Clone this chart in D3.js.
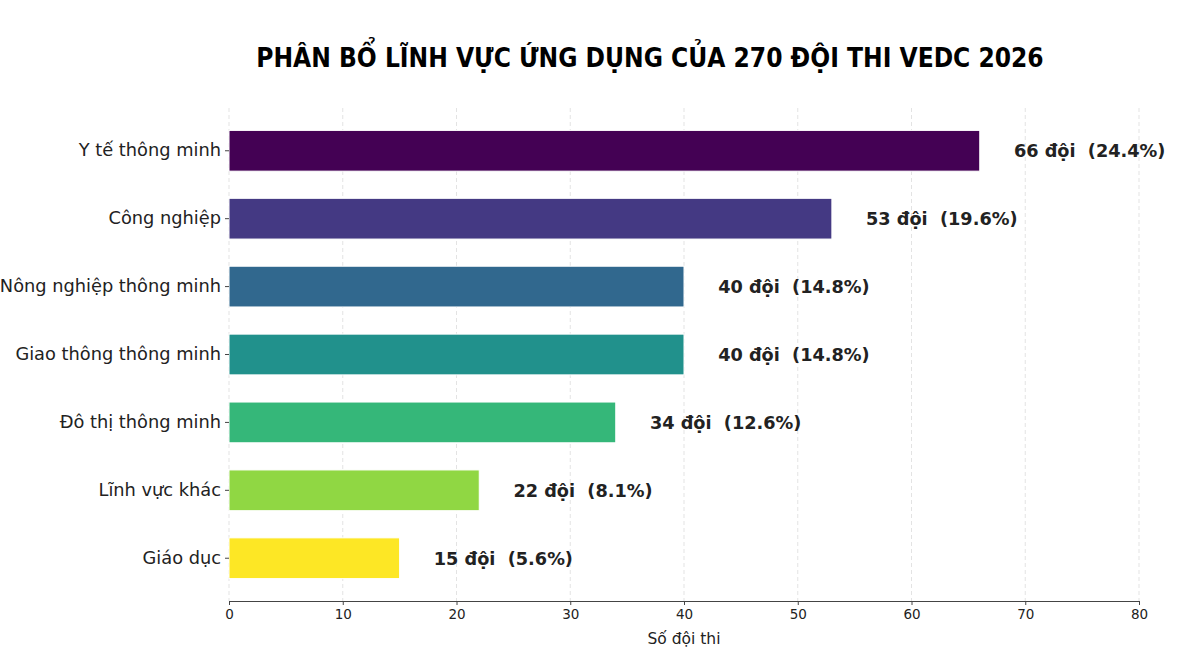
<!DOCTYPE html>
<html>
<head>
<meta charset="utf-8">
<script src="https://cdn.jsdelivr.net/npm/d3@7"></script>
<style>
  body { margin: 0; background: #fff; }
  svg { display: block; font-family: "DejaVu Sans", sans-serif; }
</style>
</head>
<body>
<svg width="1200" height="654"></svg>
<script>
// data
const categories = ["Y tế thông minh", "Công nghiệp", "Nông nghiệp thông minh",
  "Giao thông thông minh", "Đô thị thông minh", "Lĩnh vực khác", "Giáo dục"];
const teams = [66, 53, 40, 40, 34, 22, 15];
const percents = ["24.4", "19.6", "14.8", "14.8", "12.6", "8.1", "5.6"];
const xTicks = [0, 10, 20, 30, 40, 50, 60, 70, 80];

const svg = d3.select("svg");

const x = d3.scaleLinear().domain([0, 80]).range([229, 1139]);
const y = d3.scaleBand().domain(categories).range([108, 601])
  .paddingInner(0.4).paddingOuter(0.33);
const color = i => d3.interpolateViridis(i / (categories.length - 1));

// title: condensed face, font size fitted so it spans the reference width
const title = svg.append("text")
  .attr("x", 650).attr("y", 67)
  .attr("text-anchor", "middle")
  .style("font-family", "'Liberation Sans Narrow', 'DejaVu Sans Condensed', sans-serif")
  .style("font-weight", "bold")
  .style("font-size", "36px")
  .style("fill", "#000")
  .text("PHÂN BỔ LĨNH VỰC ỨNG DỤNG CỦA 270 ĐỘI THI VEDC 2026");
const w = title.node().getComputedTextLength();
if (w > 0) title.style("font-size", Math.min(40, 36 * 788 / w) + "px");

// grid
svg.append("g").selectAll("line")
  .data(xTicks)
  .join("line")
  .attr("x1", d => x(d)).attr("x2", d => x(d))
  .attr("y1", 108).attr("y2", 601)
  .attr("stroke", "#e3e3e3")
  .attr("stroke-width", 1)
  .attr("stroke-dasharray", "4,3");

// bars
svg.append("g").selectAll("rect")
  .data(teams)
  .join("rect")
  .attr("x", x(0))
  .attr("y", (d, i) => y(categories[i]))
  .attr("width", d => x(d) - x(0))
  .attr("height", y.bandwidth())
  .attr("fill", (d, i) => color(i))
  .attr("stroke", "#fff")
  .attr("stroke-width", 1);

// value labels
svg.append("g").selectAll("text")
  .data(teams)
  .join("text")
  .attr("x", d => x(d + 3))
  .attr("y", (d, i) => y(categories[i]) + y.bandwidth() / 2)
  .attr("dy", "0.36em")
  .attr("xml:space", "preserve")
  .style("white-space", "pre")
  .style("font-size", "17.7px")
  .style("font-weight", "bold")
  .style("fill", "#222")
  .text((d, i) => `${d} đội  (${percents[i]}%)`);

// x axis
const xAxis = svg.append("g")
  .attr("transform", "translate(0,601)")
  .call(d3.axisBottom(x).tickValues(xTicks).tickSize(4).tickPadding(4));
xAxis.select(".domain").attr("stroke", "#444");
xAxis.selectAll(".tick line").attr("stroke", "#444");
xAxis.selectAll(".tick text")
  .style("font-family", "'DejaVu Sans', sans-serif")
  .style("font-size", "13.5px")
  .style("fill", "#222");

svg.append("text")
  .attr("x", (x(0) + x(80)) / 2).attr("y", 644)
  .attr("text-anchor", "middle")
  .style("font-size", "15.5px")
  .style("fill", "#222")
  .text("Số đội thi");

// y axis
const yAxis = svg.append("g")
  .attr("transform", `translate(${x(0)},0)`)
  .call(d3.axisLeft(y).tickSize(4).tickPadding(4));
yAxis.select(".domain").remove();
yAxis.selectAll(".tick line").attr("stroke", "#444");
yAxis.selectAll(".tick text")
  .style("font-family", "'DejaVu Sans', sans-serif")
  .style("font-size", "17.8px")
  .style("fill", "#222");
</script>
</body>
</html>
